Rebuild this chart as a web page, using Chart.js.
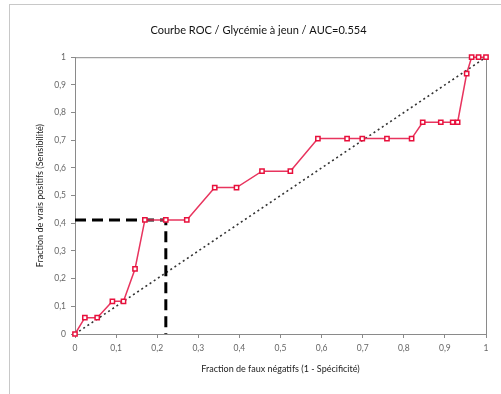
<!DOCTYPE html>
<html>
<head>
<meta charset="utf-8">
<script src="https://cdn.jsdelivr.net/npm/chart.js@4/dist/chart.umd.min.js"></script>
<style>
  html, body { margin: 0; padding: 0; background: #fff; overflow: hidden; }
  #frame { position: absolute; left: 9px; top: 4px; width: 600px; height: 500px;
           border-left: 1px solid #c8c8c8; border-top: 1px solid #c8c8c8; }
  #wrap { position: absolute; left: 0; top: 0; width: 501px; height: 394px; }
</style>
</head>
<body>
<div id="frame"></div>
<div id="wrap"><canvas id="chart"></canvas></div>
<script>
// ROC curve points (1 - specificity, sensitivity)
const fpr = [0, 0.024, 0.054, 0.091, 0.118, 0.146, 0.170, 0.221, 0.272, 0.340, 0.393, 0.455,
             0.524, 0.591, 0.662, 0.699, 0.759, 0.819, 0.846, 0.890, 0.919, 0.931, 0.953,
             0.965, 0.982, 1];
const tpr = [0, 0.059, 0.059, 0.118, 0.118, 0.235, 0.412, 0.412, 0.412, 0.529, 0.529, 0.588,
             0.588, 0.706, 0.706, 0.706, 0.706, 0.706, 0.765, 0.765, 0.765, 0.765, 0.941,
             1, 1, 1];

// optimal threshold marker (dashed lines)
const cutX = [0, 0.221, 0.221];
const cutY = [0.412, 0.412, 0];

// chance diagonal
const diagX = [0, 1];
const diagY = [0, 1];

const tickValues = [0, 0.1, 0.2, 0.3, 0.4, 0.5, 0.6, 0.7, 0.8, 0.9, 1];

const toPoints = (xs, ys) => xs.map((x, i) => ({ x: x, y: ys[i] }));
const fmt = v => String(Math.round(v * 10) / 10).replace('.', ',');

// frame round the plot area
const areaBox = {
  id: 'areaBox',
  beforeDatasetsDraw(chart) {
    const a = chart.chartArea;
    const ctx = chart.ctx;
    ctx.save();
    ctx.strokeStyle = '#8a8a8a';
    ctx.lineWidth = 1;
    ctx.strokeRect(a.left + 0.5, a.top + 0.5, a.right - a.left, a.bottom - a.top);
    ctx.restore();
  }
};

const axisStyle = {
  type: 'linear',
  min: 0,
  max: 1,
  afterBuildTicks: axis => { axis.ticks = tickValues.map(v => ({ value: v })); },
  grid: { display: true, drawOnChartArea: false, drawTicks: true, tickLength: 4, color: '#8a8a8a' },
  border: { display: true, color: '#8a8a8a' },
  ticks: {
    callback: v => fmt(v),
    color: '#666',
    font: { family: 'Lato', size: 8.5 },
    padding: 5
  }
};

new Chart(document.getElementById('chart'), {
  type: 'scatter',
  data: {
    datasets: [
      {
        label: 'Diagonale',
        data: toPoints(diagX, diagY),
        showLine: true,
        borderColor: '#333',
        borderWidth: 1.6,
        borderDash: [2, 3],
        pointRadius: 0,
        order: 3
      },
      {
        label: 'Seuil',
        data: toPoints(cutX, cutY),
        showLine: true,
        borderColor: '#000',
        borderWidth: 3,
        borderDash: [11, 6],
        pointRadius: 0,
        order: 2
      },
      {
        label: 'ROC',
        data: toPoints(fpr, tpr),
        showLine: true,
        clip: false,
        borderColor: '#e8345e',
        borderWidth: 1.5,
        pointStyle: 'rect',
        pointRadius: 3,
        pointBorderWidth: 1.5,
        pointBackgroundColor: '#fff',
        pointBorderColor: '#e8103c',
        order: 1
      }
    ]
  },
  options: {
    responsive: true,
    maintainAspectRatio: false,
    animation: false,
    layout: { padding: { left: 31, right: 15, top: 4, bottom: 16 } },
    plugins: {
      legend: { display: false },
      tooltip: { enabled: false },
      title: {
        display: true,
        text: 'Courbe ROC / Glycémie à jeun / AUC=0.554',
        color: '#111',
        font: { family: 'Lato', size: 11, weight: 'normal' },
        padding: { top: 20, bottom: 20 }
      }
    },
    scales: {
      x: {
        ...axisStyle,
        position: 'bottom',
        afterFit: axis => { axis.height = 44; },
        title: {
          display: true,
          text: 'Fraction de faux négatifs (1 - Spécificité)',
          color: '#222',
          font: { family: 'Lato', size: 9 },
          padding: { top: 5 }
        }
      },
      y: {
        ...axisStyle,
        position: 'left',
        afterFit: axis => { axis.width = 44; },
        title: {
          display: true,
          text: 'Fraction de vrais positifs (Sensibilité)',
          color: '#222',
          font: { family: 'Lato', size: 9 },
          padding: { top: 4, bottom: 4 }
        }
      }
    }
  },
  plugins: [areaBox]
});
</script>
</body>
</html>
